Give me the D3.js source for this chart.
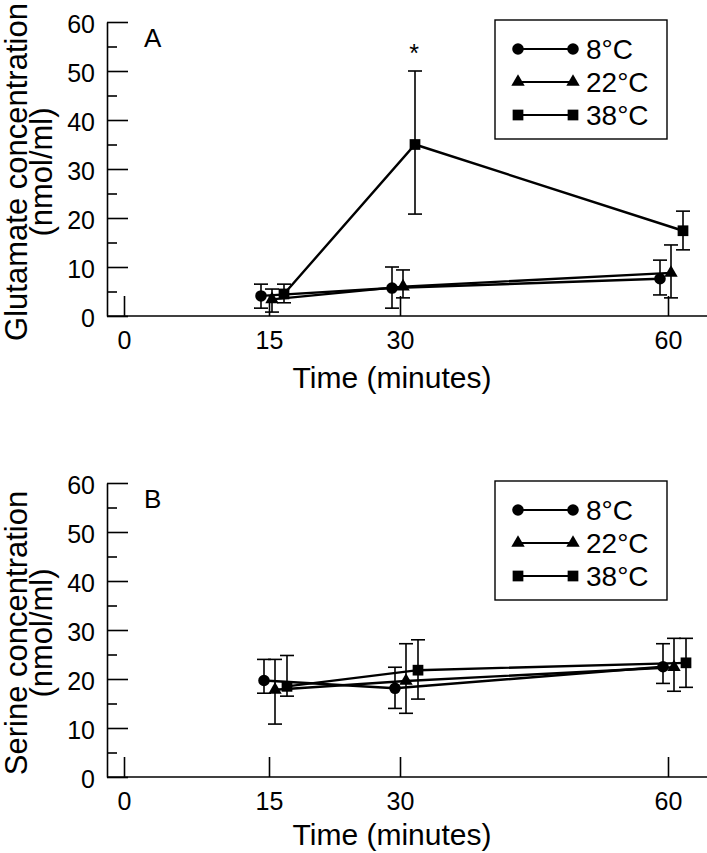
<!DOCTYPE html>
<html><head><meta charset="utf-8">
<script src="https://cdn.jsdelivr.net/npm/d3@7"></script>
<style>
body{margin:0;background:#fff}
svg{display:block}
text{font-family:"Liberation Sans",Arial,Helvetica,sans-serif;fill:#000}
</style>
</head><body>
<svg id="chart" width="707" height="853"></svg>
<script>
// ---- data ----
const times = [15, 30, 60];
const xTicks = [0, 15, 30, 60];
const yMajorTicks = [0, 10, 20, 30, 40, 50, 60];
const yMinorTicks = [5, 15, 25, 35, 45, 55];
const seriesNames = ["8°C", "22°C", "38°C"];

// Panel A: glutamate (nmol/ml)
const glu8 = [4.1, 5.7, 7.6];
const glu8Lo = [1.6, 1.6, 4.3];
const glu8Hi = [6.5, 10.0, 11.4];
const glu22 = [3.4, 6.0, 8.8];
const glu22Lo = [0.8, 3.7, 3.7];
const glu22Hi = [5.5, 9.4, 14.5];
const glu38 = [4.5, 35.0, 17.4];
const glu38Lo = [2.7, 20.8, 13.5];
const glu38Hi = [6.5, 50.0, 21.4];

// Panel B: serine (nmol/ml)
const ser8 = [19.7, 18.1, 22.5];
const ser8Lo = [17.1, 14.0, 19.1];
const ser8Hi = [24.0, 22.4, 27.2];
const ser22 = [17.8, 19.6, 22.4];
const ser22Lo = [10.8, 13.0, 17.5];
const ser22Hi = [24.0, 27.2, 28.3];
const ser38 = [18.5, 21.8, 23.3];
const ser38Lo = [16.5, 15.9, 18.3];
const ser38Hi = [24.8, 28.0, 28.3];

// ---- drawing ----
const svg = d3.select("#chart");
const symbolTypes = [d3.symbolCircle, d3.symbolTriangle, d3.symbolSquare];
const symbolSizes = [105, 78, 115];

const x = d3.scaleLinear().domain(xTicks).range([124, 269, 400, 668]);

function panel(cfg) {
  const y = d3.scaleLinear().domain([0, 60]).range([cfg.bottom, cfg.bottom - 294]);
  const g = svg.append("g");
  const axisLeftX = 107;

  // y axis major
  const yAx = g.append("g").attr("transform", `translate(${axisLeftX},0)`)
    .call(d3.axisLeft(y).tickValues(yMajorTicks).tickSizeInner(-21).tickSizeOuter(0).tickPadding(12));
  yAx.attr("font-family", null).attr("font-size", 25);
  yAx.selectAll("path,line").attr("stroke", "#000").attr("stroke-width", 1.6);
  yAx.selectAll("text").attr("dy", "0.43em").style("font-size", "25px");
  // y axis minor
  const yMin = g.append("g").attr("transform", `translate(${axisLeftX},0)`)
    .call(d3.axisLeft(y).tickValues(yMinorTicks).tickSizeInner(-10).tickSizeOuter(0).tickFormat(""));
  yMin.select(".domain").remove();
  yMin.selectAll("line").attr("stroke", "#000").attr("stroke-width", 1.6);

  // x axis
  g.append("line").attr("x1", axisLeftX).attr("x2", 707)
    .attr("y1", y(0)).attr("y2", y(0)).attr("stroke", "#000").attr("stroke-width", 1.6);
  const xAx = g.append("g").attr("transform", `translate(0,${y(0)})`)
    .call(d3.axisBottom(x).tickValues(xTicks).tickSizeInner(-20).tickSizeOuter(0).tickPadding(15).tickFormat(d3.format("d")));
  xAx.select(".domain").remove();
  xAx.attr("font-family", null).attr("font-size", 25);
  xAx.selectAll("line").attr("stroke", "#000").attr("stroke-width", 1.6);
  xAx.selectAll("text").style("font-size", "25px");

  // axis titles
  g.append("text").attr("x", 392).attr("y", y(0) + cfg.xTitleOffset).attr("text-anchor", "middle")
    .style("font-size", "30px").text("Time (minutes)");
  const yMid = (y(0) + y(60)) / 2 + 3;
  g.append("text").attr("transform", `translate(27,${yMid}) rotate(-90)`).attr("text-anchor", "middle")
    .style("font-size", "31px").text(cfg.yTitle);
  g.append("text").attr("transform", `translate(52,${yMid}) rotate(-90)`).attr("text-anchor", "middle")
    .style("font-size", "31px").text("(nmol/ml)");

  // panel letter
  g.append("text").attr("x", 144).attr("y", y(60) + 25).style("font-size", "26px").text(cfg.letter);

  // series
  const line = d3.line().x(d => x(d.t) + d.dx).y(d => y(d.v));
  cfg.series.forEach((s, i) => {
    const pts = times.map((t, j) => ({t, v: s.mean[j], lo: s.lo[j], hi: s.hi[j], dx: cfg.dodge[i]}));
    g.append("path").datum(pts).attr("d", line).attr("fill", "none")
      .attr("stroke", "#000").attr("stroke-width", 2.4);
    const eb = g.append("g").attr("stroke", "#000").attr("stroke-width", 1.6);
    pts.forEach(p => {
      const cx = x(p.t) + p.dx;
      eb.append("line").attr("x1", cx).attr("x2", cx).attr("y1", y(p.lo)).attr("y2", y(p.hi));
      eb.append("line").attr("x1", cx - 7).attr("x2", cx + 7).attr("y1", y(p.lo)).attr("y2", y(p.lo));
      eb.append("line").attr("x1", cx - 7).attr("x2", cx + 7).attr("y1", y(p.hi)).attr("y2", y(p.hi));
    });
    g.selectAll(null).data(pts).enter().append("path")
      .attr("transform", p => `translate(${x(p.t) + p.dx},${y(p.v)})`)
      .attr("d", d3.symbol().type(symbolTypes[i]).size(symbolSizes[i])())
      .attr("fill", "#000");
  });

  // significance marker
  if (cfg.star) {
    const s = cfg.series[cfg.star.series];
    const j = cfg.star.index;
    g.append("text").attr("x", x(times[j]) + cfg.dodge[cfg.star.series] - 1)
      .attr("y", y(s.hi[j]) - 9).attr("text-anchor", "middle").style("font-size", "25px").text("*");
  }

  // legend
  const top = y(60);
  const lg = g.append("g");
  lg.append("rect").attr("x", 495).attr("y", top - 2).attr("width", 172).attr("height", 119)
    .attr("fill", "#fff").attr("stroke", "#000").attr("stroke-width", 1.4);
  seriesNames.forEach((name, i) => {
    const ry = top + 27 + i * 33;
    lg.append("line").attr("x1", 518).attr("x2", 573).attr("y1", ry).attr("y2", ry)
      .attr("stroke", "#000").attr("stroke-width", 2.2);
    [518, 573].forEach(px => {
      lg.append("path").attr("transform", `translate(${px},${ry})`)
        .attr("d", d3.symbol().type(symbolTypes[i]).size(symbolSizes[i])()).attr("fill", "#000");
    });
    lg.append("text").attr("x", 586).attr("y", ry + 10).style("font-size", "28px").text(name);
  });
}

panel({
  bottom: 316, letter: "A", yTitle: "Glutamate concentration", xTitleOffset: 72,
  dodge: [-8, 3, 15],
  series: [
    {mean: glu8, lo: glu8Lo, hi: glu8Hi},
    {mean: glu22, lo: glu22Lo, hi: glu22Hi},
    {mean: glu38, lo: glu38Lo, hi: glu38Hi}
  ],
  star: {series: 2, index: 1}
});

panel({
  bottom: 777, letter: "B", yTitle: "Serine concentration", xTitleOffset: 68,
  dodge: [-5, 6, 18],
  series: [
    {mean: ser8, lo: ser8Lo, hi: ser8Hi},
    {mean: ser22, lo: ser22Lo, hi: ser22Hi},
    {mean: ser38, lo: ser38Lo, hi: ser38Hi}
  ]
});
</script>
</body></html>
